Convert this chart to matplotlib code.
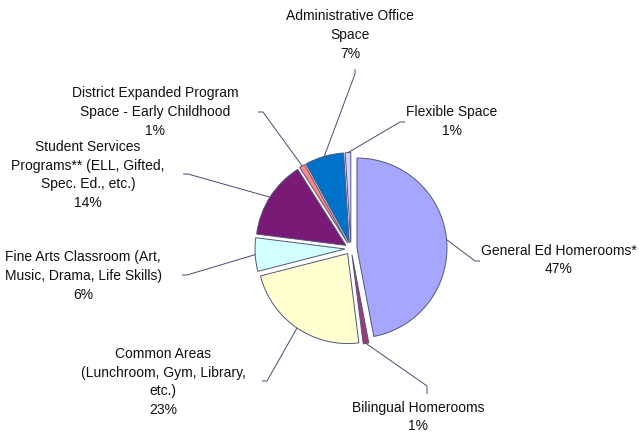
import numpy as np
import matplotlib
matplotlib.use("Agg")
import matplotlib.pyplot as plt

# space allocation, clockwise from 12 o'clock
categories = [
    "General Ed Homerooms*",
    "Bilingual Homerooms",
    "Common Areas\n(Lunchroom, Gym, Library,\netc.)",
    "Fine Arts Classroom (Art,\nMusic, Drama, Life Skills)",
    "Student Services\nPrograms** (ELL, Gifted,\nSpec. Ed., etc.)",
    "District Expanded Program\nSpace - Early Childhood",
    "Administrative Office\nSpace",
    "Flexible Space",
]
shares = [47, 1, 23, 6, 14, 1, 7, 1]
colors = ["#A6A6FF", "#9C3A76", "#FFFFD0", "#D2FFFF",
          "#791A76", "#FF8585", "#0072CA", "#D0D0FF"]

W, H = 639, 439


def P(x, y):
    # pixel position (from top-left) -> data coords
    return x, H - y


# label centre, elbow and tick end of each leader line (pixels)
label_pos = [(559, 260), (418, 417), (163, 382), (83, 276),
             (88, 175), (155, 112), (350, 35), (452, 121.5)]
elbows = [(475, 262), (427, 387), (267, 382), (187, 276),
          (188, 175), (263, 113), (355, 75), (400, 123)]
tick_ends = [(480, 262), (427, 395), (262, 382), (182, 276),
             (183, 175), (258, 113), (355, 70), (405, 123)]

plt.rcParams["font.family"] = ["Liberation Sans", "DejaVu Sans"]

fig = plt.figure(figsize=(W / 100, H / 100), dpi=100)
ax = fig.add_axes([0, 0, 1, 1])

# explode is in data units here (1 unit = 1 px)
wedges, _ = ax.pie(
    shares, colors=colors, startangle=90, counterclock=False,
    explode=[6] * len(shares), radius=90, center=P(351, 249.6),
    frame=True,
    wedgeprops=dict(edgecolor="#55557a", linewidth=0.7),
)
ax.set_xlim(0, W)
ax.set_ylim(0, H)
ax.set_aspect("equal")
ax.axis("off")

for w, name, val, pos, elb, end in zip(wedges, categories, shares,
                                       label_pos, elbows, tick_ends):
    mid = np.deg2rad((w.theta1 + w.theta2) / 2)
    ax_ = w.center[0] + w.r * np.cos(mid)
    ay_ = w.center[1] + w.r * np.sin(mid)
    ex, ey = P(*elb)
    tx, ty = P(*end)
    ax.plot([ax_, ex, tx], [ay_, ey, ty], color="#4a4a70", lw=0.7,
            solid_capstyle="butt")
    ax.text(*P(*pos), f"{name}\n{val}%", ha="center", va="center",
            fontsize=10, color="#111111", linespacing=1.45)

fig.savefig("out.png", dpi=100)
